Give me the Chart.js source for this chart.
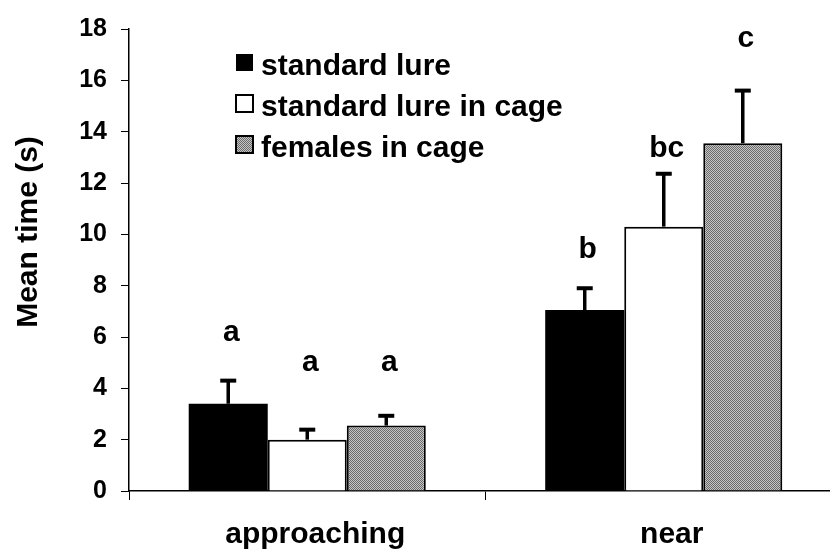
<!DOCTYPE html>
<html>
<head>
<meta charset="utf-8">
<script src="https://cdn.jsdelivr.net/npm/chart.js@4.4.1/dist/chart.umd.min.js"></script>
<style>
  html, body { margin: 0; padding: 0; background: #fff; overflow: hidden; }
  canvas { display: block; }
</style>
</head>
<body>
<canvas id="chart" width="842" height="549"></canvas>
<script>
// data
const categories = ['approaching', 'near'];
const seriesNames = ['standard lure', 'standard lure in cage', 'females in cage'];
const standardLure = [3.4, 7.05];
const lureInCage = [2.0, 10.3];
const femalesInCage = [2.55, 13.55];
// upper error bars (SE)
const standardLureErr = [0.9, 0.85];
const lureInCageErr = [0.39, 2.06];
const femalesInCageErr = [0.38, 2.05];
// significance letters and the height (in s) they sit at
const standardLureLetters = ['a', 'b'];
const lureInCageLetters = ['a', 'bc'];
const femalesInCageLetters = ['a', 'c'];
const standardLureLetterAt = [5.85, 9.08];
const lureInCageLetterAt = [4.69, 13.02];
const femalesInCageLetterAt = [4.69, 17.29];
const yTitle = 'Mean time (s)';

const FONT = "'Liberation Sans', Arial, sans-serif";

// stippled grey fill like the printed figure
function stipple() {
  const c = document.createElement('canvas');
  c.width = 2; c.height = 2;
  const g = c.getContext('2d');
  g.fillStyle = '#c6c6c6'; g.fillRect(0, 0, 2, 2);
  g.fillStyle = '#6a6a6a'; g.fillRect(0, 0, 1, 1); g.fillRect(1, 1, 1, 1);
  return g.createPattern(c, 'repeat');
}
const grey = stipple();

const errs = [standardLureErr, lureInCageErr, femalesInCageErr];
const letters = [standardLureLetters, lureInCageLetters, femalesInCageLetters];
const letterAt = [standardLureLetterAt, lureInCageLetterAt, femalesInCageLetterAt];

const extras = {
  id: 'extras',
  afterDatasetsDraw(chart) {
    const ctx = chart.ctx;
    const y = chart.scales.y;
    ctx.save();
    chart.data.datasets.forEach((ds, i) => {
      chart.getDatasetMeta(i).data.forEach((bar, j) => {
        const top = y.getPixelForValue(ds.data[j]);
        const end = y.getPixelForValue(ds.data[j] + errs[i][j]);
        ctx.strokeStyle = '#000';
        ctx.lineWidth = 3.5;
        ctx.beginPath();
        ctx.moveTo(bar.x, top);
        ctx.lineTo(bar.x, end);
        ctx.stroke();
        ctx.lineWidth = 4;
        ctx.beginPath();
        ctx.moveTo(bar.x - 8, end);
        ctx.lineTo(bar.x + 8, end);
        ctx.stroke();

        ctx.fillStyle = '#000';
        ctx.font = 'bold 30px ' + FONT;
        ctx.textAlign = 'center';
        ctx.textBaseline = 'alphabetic';
        ctx.fillText(letters[i][j], bar.x + 3, y.getPixelForValue(letterAt[i][j]));
      });
    });

    // legend
    ctx.font = 'bold 30px ' + FONT;
    ctx.textAlign = 'left';
    ctx.textBaseline = 'alphabetic';
    chart.data.datasets.forEach((ds, i) => {
      const base = 75 + i * 41;
      ctx.fillStyle = ds.backgroundColor;
      ctx.fillRect(236, base - 21, 17, 17);
      if (i > 0) {
        ctx.lineWidth = 2;
        ctx.strokeStyle = '#000';
        ctx.strokeRect(236, base - 21, 17, 17);
      }
      ctx.fillStyle = '#000';
      ctx.fillText(ds.label, 261, base);
    });

    // y axis title
    ctx.translate(37, 232);
    ctx.rotate(-Math.PI / 2);
    ctx.textAlign = 'center';
    ctx.fillText(yTitle, 0, 0);
    ctx.restore();
  }
};

new Chart(document.getElementById('chart').getContext('2d'), {
  type: 'bar',
  data: {
    labels: categories,
    datasets: [
      { label: seriesNames[0], data: standardLure, backgroundColor: '#000', borderColor: '#000', borderWidth: 0 },
      { label: seriesNames[1], data: lureInCage, backgroundColor: '#fff', borderColor: '#000', borderWidth: 2 },
      { label: seriesNames[2], data: femalesInCage, backgroundColor: grey, borderColor: '#000', borderWidth: 2 },
    ],
  },
  options: {
    responsive: false,
    animation: false,
    devicePixelRatio: 1,
    categoryPercentage: 0.665,
    barPercentage: 1,
    layout: { padding: { top: 27, right: 0, left: 0, bottom: 0 } },
    plugins: { legend: { display: false }, tooltip: { enabled: false } },
    scales: {
      x: {
        grid: { drawOnChartArea: false, color: '#000', tickLength: 9, offset: true },
        border: { color: '#000', width: 1.5 },
        ticks: { color: '#000', padding: 17, labelOffset: 8, font: { family: FONT, size: 30, weight: 'bold' } },
        afterFit: s => { s.height = 58; },
      },
      y: {
        min: 0, max: 18,
        grid: { drawOnChartArea: false, color: '#000', tickLength: 8 },
        border: { color: '#000', width: 1.5 },
        ticks: { stepSize: 2, color: '#000', padding: 14, font: { family: FONT, size: 25, weight: 'bold' } },
        afterFit: s => { s.width = 129; },
      },
    },
  },
  plugins: [extras],
});
</script>
</body>
</html>
